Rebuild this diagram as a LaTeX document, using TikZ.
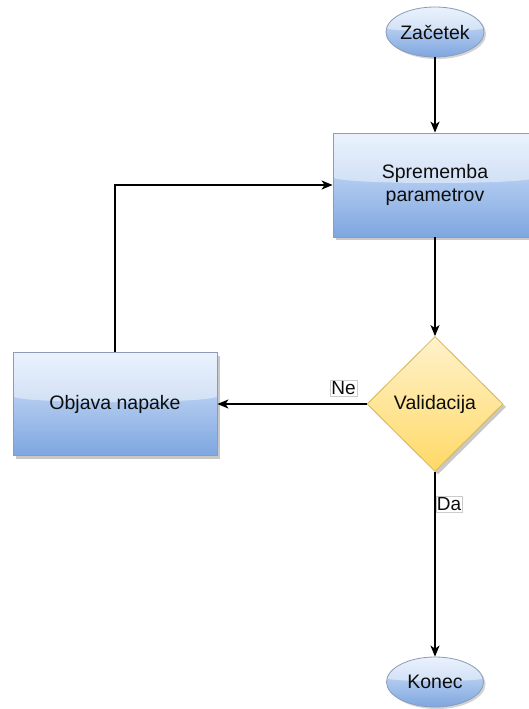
\documentclass[tikz,border=0pt]{standalone}
\usepackage{fontspec}
\setmainfont{Liberation Sans}
\usetikzlibrary{shapes.geometric,shadows,arrows.meta}
\definecolor{blueTop}{HTML}{DAE8FC}
\definecolor{blueBot}{HTML}{7EA6E0}
\definecolor{blueLine}{HTML}{8C9CB8}
\definecolor{yelTop}{HTML}{FFF2CC}
\definecolor{yelBot}{HTML}{FFD966}
\definecolor{yelLine}{HTML}{D6B656}
\definecolor{shadowGray}{HTML}{C8C8C8}
\tikzset{
  txt/.style={font=\fontsize{19.5}{23}\selectfont, align=center, text=black!95},
  gloss/.style={path picture={
      \fill[white,opacity=0.45]
        (path picture bounding box.north west) --
        (path picture bounding box.north east) --
        ([yshift=#1]path picture bounding box.east) ..
        controls ([yshift=0pt]path picture bounding box.center -| path picture bounding box.east)
        and ([yshift=0pt]path picture bounding box.center -| path picture bounding box.west) ..
        ([yshift=#1]path picture bounding box.west) -- cycle;}},
  gloss/.default=8pt,
  bluebox/.style={txt, rectangle, draw=blueLine, line width=0.8pt,
      top color=blueTop, bottom color=blueBot, gloss,
      drop shadow={shadow xshift=3pt, shadow yshift=-3pt, fill=shadowGray, opacity=1},
      minimum width=204pt, minimum height=104pt, inner sep=0pt},
  blueell/.style={txt, ellipse, draw=blueLine, line width=0.8pt,
      top color=blueTop, bottom color=blueBot, gloss=4pt,
      drop shadow={shadow xshift=2pt, shadow yshift=-2pt, fill=shadowGray, opacity=0.8},
      minimum width=97pt, minimum height=50pt, inner sep=0pt},
  decision/.style={txt, diamond, draw=yelLine, line width=0.8pt,
      top color=yelTop, bottom color=yelBot,
      drop shadow={shadow xshift=3pt, shadow yshift=-3pt, fill=shadowGray, opacity=1},
      minimum width=136pt, minimum height=135pt, inner sep=0pt, aspect=1},
  conn/.style={draw=black, line width=1.3pt, -{Stealth[length=11pt,width=9pt,inset=3pt]}},
  edgelabel/.style={font=\fontsize{19}{22}\selectfont, fill=white, draw=black!20,
      line width=0.5pt, inner sep=1.2pt, text=black!95}
}
\begin{document}
\begin{tikzpicture}[x=1pt,y=-1pt]
\useasboundingbox (0,0) rectangle (528,709);
\fill[white] (0,0) rectangle (528,709);

\node[blueell] (start) at (435,32) {Začetek};
\node[bluebox] (change) at (435,185) {Sprememba\\parametrov};
\node[decision] (valid) at (435,404) {Validacija};
\node[bluebox, minimum height=103pt] (error) at (115,404) {Objava napake};
\node[blueell] (end) at (435,682) {Konec};

\coordinate (corner) at (115,185);

\draw[conn] (start) -- (change);
\draw[conn] (change) -- (valid);
\draw[conn] (valid.west) -- (error.east);
\draw[conn] (error.north) -- (corner) -- (change.west);
\draw[conn] (valid.south) -- (end.north);

\node[edgelabel] (ne) at (343.5,388.5) {Ne};
\node[edgelabel, anchor=west] (da) at (435.5,504) {Da};
\end{tikzpicture}
\end{document}
